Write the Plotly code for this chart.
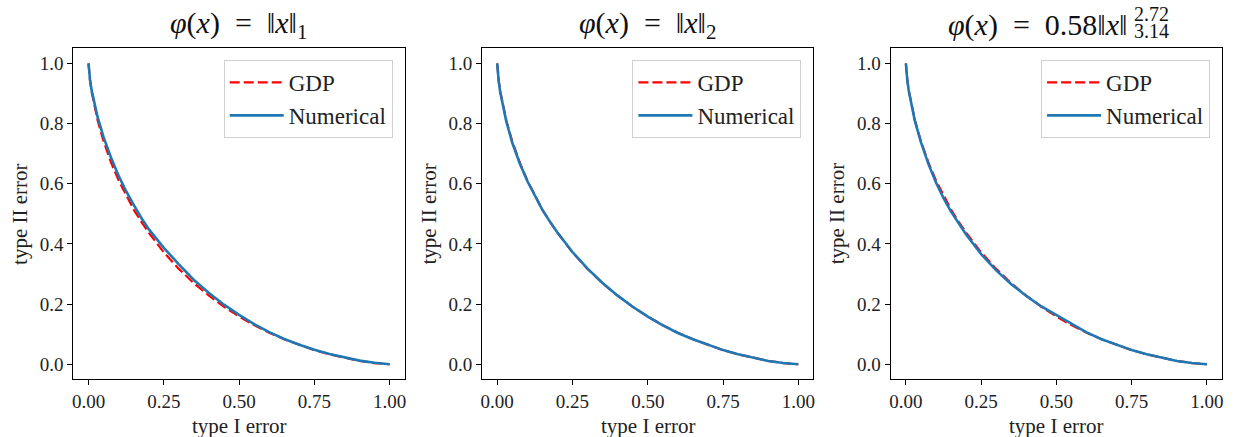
import plotly.graph_objects as go

# ---- data ----
type1 = [0.0, 0.001, 0.005, 0.01, 0.02, 0.03, 0.05, 0.075, 0.1, 0.125, 0.15, 0.175,
         0.2, 0.25, 0.3, 0.35, 0.4, 0.45, 0.5, 0.55, 0.6, 0.65, 0.7, 0.75, 0.8,
         0.85, 0.9, 0.95, 1.0]

gdp = [1.0, 0.982, 0.943, 0.908, 0.854, 0.811, 0.741, 0.670, 0.611, 0.560, 0.514, 0.474,
       0.437, 0.372, 0.317, 0.269, 0.228, 0.191, 0.159, 0.130, 0.105, 0.083, 0.064, 0.047,
       0.033, 0.021, 0.011, 0.004, 0.0]

num_l1 = [1.0, 0.982, 0.945, 0.912, 0.862, 0.822, 0.755, 0.686, 0.626, 0.575, 0.530, 0.487,
          0.449, 0.387, 0.332, 0.280, 0.237, 0.198, 0.164, 0.133, 0.107, 0.084, 0.065, 0.048,
          0.034, 0.022, 0.012, 0.005, 0.0]

num_l2 = [1.0, 0.981, 0.940, 0.905, 0.852, 0.808, 0.736, 0.667, 0.609, 0.559, 0.513, 0.474,
          0.438, 0.373, 0.318, 0.270, 0.228, 0.191, 0.158, 0.129, 0.104, 0.083, 0.064, 0.047,
          0.033, 0.021, 0.011, 0.004, 0.0]

num_lp = [1.0, 0.981, 0.941, 0.906, 0.852, 0.808, 0.738, 0.665, 0.604, 0.552, 0.507, 0.468,
          0.431, 0.366, 0.312, 0.266, 0.227, 0.192, 0.163, 0.134, 0.106, 0.083, 0.064, 0.047,
          0.033, 0.021, 0.011, 0.004, 0.0]

SP = "\u2002"
titles_main = [f"<i>φ</i>(<i>x</i>){SP}={SP}‖<i>x</i>‖<sub>1</sub>",
               f"<i>φ</i>(<i>x</i>){SP}={SP}‖<i>x</i>‖<sub>2</sub>",
               f"<i>φ</i>(<i>x</i>){SP}={SP}0.58‖<i>x</i>‖"]
sup3, sub3 = "2.72", "3.14"
numericals = [num_l1, num_l2, num_lp]

x_ticks = [0, 0.25, 0.5, 0.75, 1.0]
x_tick_text = ["0.00", "0.25", "0.50", "0.75", "1.00"]
y_ticks = [0, 0.2, 0.4, 0.6, 0.8, 1.0]
y_tick_text = ["0.0", "0.2", "0.4", "0.6", "0.8", "1.0"]

# ---- layout constants ----
W, H = 1237, 437
FONT = "Liberation Serif"
x_domains = [[71.7 / W, 404 / W], [481.7 / W, 814 / W], [891.7 / W, 1224 / W]]
y_domain = [(H - 379.3) / H, (H - 48.3) / H]
legend_right = [392 / W, 802 / W, 1212 / W]

fig = go.Figure()
annotations = []
for i in range(3):
    ax = "" if i == 0 else str(i + 1)
    leg = "legend" if i == 0 else f"legend{i + 1}"
    fig.add_trace(go.Scatter(x=type1, y=gdp, mode="lines", name="GDP",
                             line=dict(color="#ff0000", width=2.2, dash="10px,4px"),
                             xaxis="x" + ax, yaxis="y" + ax, legend=leg))
    fig.add_trace(go.Scatter(x=type1, y=numericals[i], mode="lines", name="Numerical",
                             line=dict(color="#1f77b4", width=2.6),
                             xaxis="x" + ax, yaxis="y" + ax, legend=leg))
    axis_common = dict(showline=True, linecolor="black", linewidth=1.3, mirror=True,
                       ticks="outside", ticklen=5, tickwidth=1.2, tickcolor="black",
                       showgrid=False, zeroline=False, range=[-0.05, 1.05],
                       tickfont=dict(family=FONT, size=19, color="#222"))
    fig.update_layout(**{
        "xaxis" + ax: dict(domain=x_domains[i], anchor="y" + ax, tickvals=x_ticks,
                           ticktext=x_tick_text, **axis_common),
        "yaxis" + ax: dict(domain=y_domain, anchor="x" + ax, tickvals=y_ticks,
                           ticktext=y_tick_text, **axis_common),
        leg: dict(x=legend_right[i], xanchor="right", y=(H - 60) / H, yanchor="top",
                  bgcolor="rgba(255,255,255,0.85)", bordercolor="#d0d0d0", borderwidth=1,
                  font=dict(family=FONT, size=23, color="#222"), itemwidth=54,
                  tracegroupgap=0),
    })
    cx = (x_domains[i][0] + x_domains[i][1]) / 2
    if i < 2:
        annotations.append(dict(text=titles_main[i], x=cx, y=(H - 25) / H, xref="paper",
                                yref="paper", xanchor="center", yanchor="middle",
                                showarrow=False, font=dict(family=FONT, size=30, color="#111")))
    else:
        annotations.append(dict(text=titles_main[i], x=1132 / W, y=(H - 25) / H, xref="paper",
                                yref="paper", xanchor="right", yanchor="middle",
                                showarrow=False, font=dict(family=FONT, size=30, color="#111")))
        annotations.append(dict(text=sup3, x=1134 / W, y=(H - 14) / H, xref="paper",
                                yref="paper", xanchor="left", yanchor="middle",
                                showarrow=False, font=dict(family=FONT, size=20, color="#111")))
        annotations.append(dict(text=sub3, x=1134 / W, y=(H - 31) / H, xref="paper",
                                yref="paper", xanchor="left", yanchor="middle",
                                showarrow=False, font=dict(family=FONT, size=20, color="#111")))
    annotations.append(dict(text="type I error", x=cx, y=(H - 426) / H, xref="paper",
                            yref="paper", xanchor="center", yanchor="middle", showarrow=False,
                            font=dict(family=FONT, size=21, color="#222")))
    annotations.append(dict(text="type II error", x=(18 + 410 * i) / W, y=(H - 214) / H,
                            xref="paper", yref="paper", xanchor="center", yanchor="middle",
                            textangle=-90, showarrow=False,
                            font=dict(family=FONT, size=21, color="#222")))

fig.update_layout(width=W, height=H, margin=dict(l=0, r=0, t=0, b=0),
                  paper_bgcolor="white", plot_bgcolor="white", showlegend=True,
                  annotations=annotations)
fig.write_html("out.html", config={"displayModeBar": False},
               post_script="document.body.style.margin='0';document.body.style.overflow='hidden';")
